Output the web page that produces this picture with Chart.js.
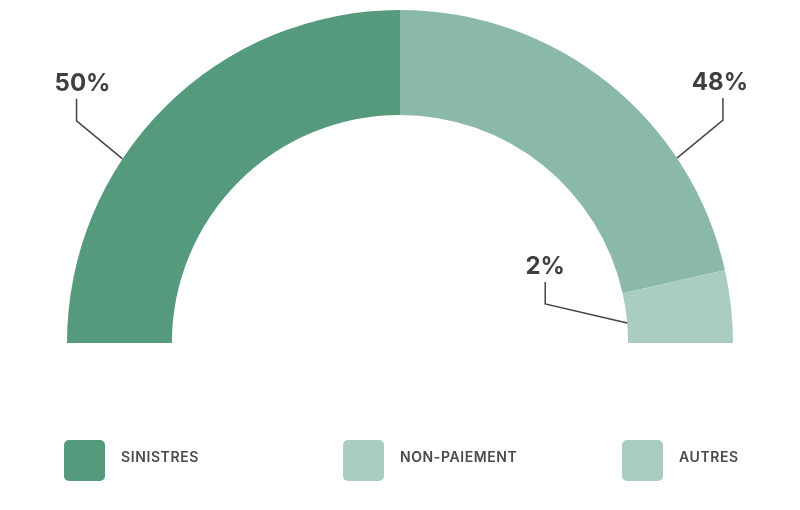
<!DOCTYPE html>
<html>
<head>
<meta charset="utf-8">
<script src="https://cdn.jsdelivr.net/npm/chart.js@4"></script>
<style>
  body { margin: 0; background: #fff; }
  #wrap { width: 800px; height: 510px; position: relative; }
</style>
</head>
<body>
<div id="wrap"><canvas id="halfChart"></canvas></div>
<script>
// data
const categories = ['SINISTRES', 'NON-PAIEMENT', 'AUTRES'];
const shareLabels = ['50%', '48%', '2%'];
const arcValues = [50, 43, 7]; // arc sizes as drawn in the picture
const sliceColors = ['#559a7d', '#8ab9a8', '#aacdbf'];
const legendColors = ['#559a7d', '#aacdbf', '#aacdbf'];

// leader lines + labels
const calloutPlugin = {
  id: 'callouts',
  afterDraw(chart, args, opts) {
    const ctx = chart.ctx;
    const arcs = chart.getDatasetMeta(0).data;
    ctx.save();
    arcs.forEach((arc, i) => {
      const c = opts.items[i];
      const p = arc.getProps(['x', 'y', 'startAngle', 'endAngle', 'innerRadius', 'outerRadius']);
      const a = p.startAngle + (p.endAngle - p.startAngle) * c.at;
      const r = c.inner ? p.innerRadius : p.outerRadius;
      const ax = p.x + Math.cos(a) * r;
      const ay = p.y + Math.sin(a) * r;
      const ex = ax + c.dx;
      const ey = ay + c.dy;
      const ty = ey - 22;
      ctx.strokeStyle = '#444';
      ctx.lineWidth = 1.5;
      ctx.beginPath();
      ctx.moveTo(ax, ay);
      ctx.lineTo(ex, ey);
      ctx.lineTo(ex, ty);
      ctx.stroke();
      ctx.fillStyle = '#3f3f3f';
      ctx.font = '700 24px Inter, "Open Sans", sans-serif';
      ctx.textAlign = 'center';
      ctx.textBaseline = 'alphabetic';
      ctx.fillText(shareLabels[i], ex + c.tx, ty - 8);
    });
    ctx.restore();
  }
};

// legend drawn under the chart
const legendPlugin = {
  id: 'bottomLegend',
  afterDraw(chart, args, opts) {
    const ctx = chart.ctx;
    ctx.save();
    categories.forEach((name, i) => {
      const x = opts.xs[i];
      const y = opts.y;
      ctx.fillStyle = legendColors[i];
      ctx.beginPath();
      ctx.roundRect(x, y, 41, 41, 5);
      ctx.fill();
      ctx.fillStyle = '#4a4a4a';
      ctx.font = '600 14px Inter, "Open Sans", sans-serif';
      ctx.letterSpacing = '0.6px';
      ctx.textAlign = 'left';
      ctx.textBaseline = 'middle';
      ctx.fillText(name, x + 57, y + 18);
    });
    ctx.restore();
  }
};

new Chart('halfChart', {
  type: 'doughnut',
  data: {
    labels: categories,
    datasets: [{
      data: arcValues,
      backgroundColor: sliceColors,
      borderWidth: 0,
      hoverOffset: 0
    }]
  },
  options: {
    responsive: true,
    maintainAspectRatio: false,
    animation: false,
    rotation: -90,
    circumference: 180,
    cutout: '68.5%',
    layout: {
      padding: { left: 67, right: 67, top: 10, bottom: 167 }
    },
    plugins: {
      legend: { display: false },
      tooltip: { enabled: false },
      callouts: {
        items: [
          { at: 0.373, inner: false, dx: -46, dy: -38, tx: 6 },
          { at: 0.727, inner: false, dx: 46, dy: -38, tx: -3 },
          { at: 0.6, inner: true, dx: -82, dy: -19, tx: 0 }
        ]
      },
      bottomLegend: { xs: [64, 343, 622], y: 440 }
    }
  },
  plugins: [calloutPlugin, legendPlugin]
});
</script>
</body>
</html>
